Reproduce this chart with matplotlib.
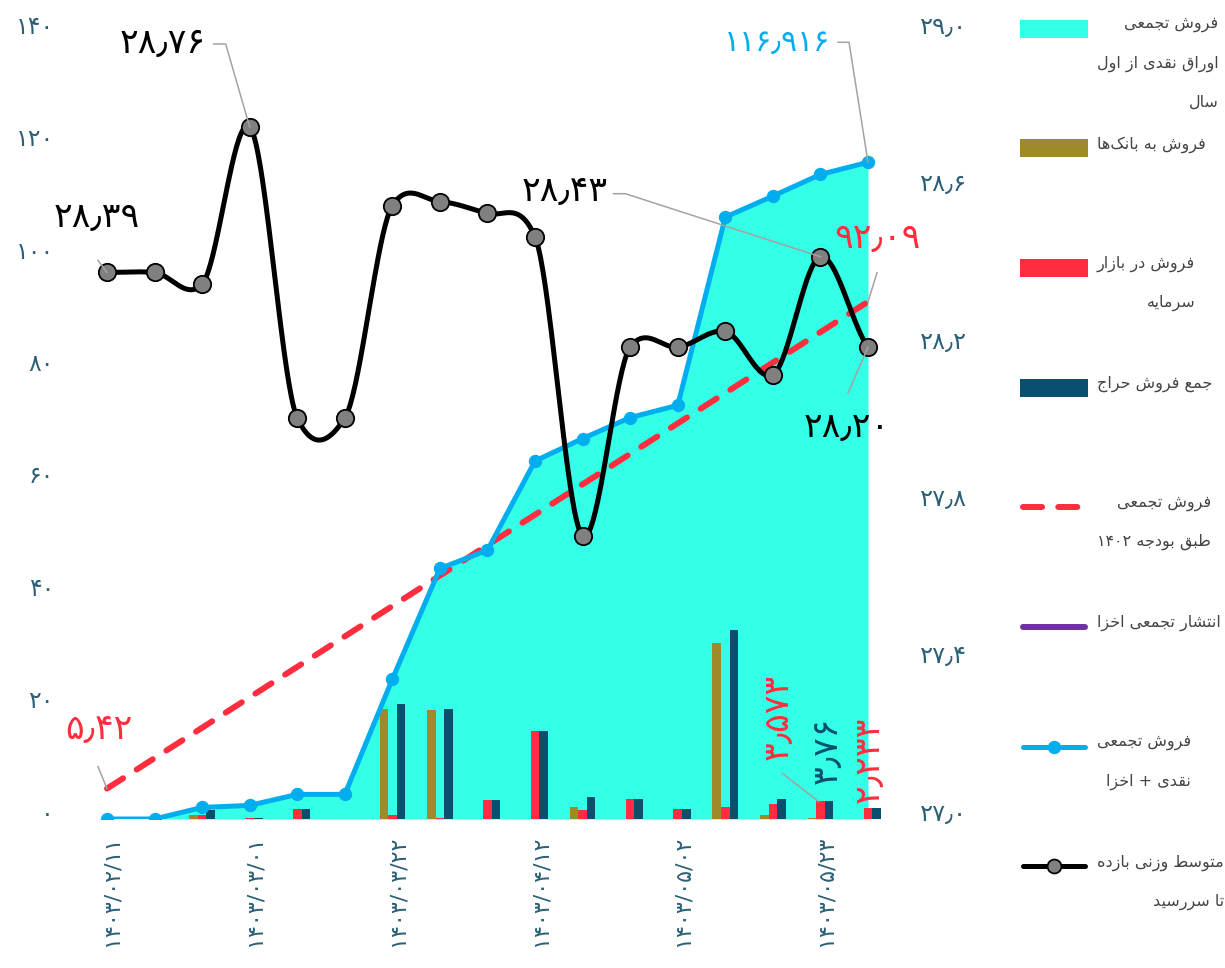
import numpy as np
import matplotlib
matplotlib.use("Agg")
import matplotlib.pyplot as plt
from matplotlib.patches import Rectangle
from matplotlib.lines import Line2D
from matplotlib.transforms import ScaledTranslation

plt.rcParams["font.family"] = ["DejaVu Sans"]

# ---------------------------------------------------------------- data
dates = ["1403/02/11", "1403/02/18", "1403/02/25", "1403/03/01", "1403/03/08",
         "1403/03/15", "1403/03/22", "1403/03/29", "1403/04/05", "1403/04/12",
         "1403/04/19", "1403/04/26", "1403/05/02", "1403/05/09", "1403/05/16",
         "1403/05/23", "1403/05/30"]

# cumulative cash sales since start of year (area)
cash_cum = [0.0, 0.0, 2.06, 2.42, 4.38, 4.38, 24.9, 44.6, 47.86, 63.74, 67.73,
            71.47, 73.65, 107.15, 110.9, 114.75, 116.916]
# cumulative cash + akhza sales (line)
cash_akhza_cum = [0.0, 0.0, 2.06, 2.42, 4.38, 4.38, 24.9, 44.6, 47.86, 63.74,
                  67.73, 71.47, 73.65, 107.15, 110.9, 114.75, 116.916]
# cumulative sales according to the 1402 budget
budget_cum = [5.42, 10.84, 16.25, 21.67, 27.09, 32.51, 37.92, 43.34, 48.76,
              54.18, 59.59, 65.01, 70.43, 75.85, 81.26, 86.68, 92.09]
# weekly auction sales
bank_sales = [0, 0, 0.9, 0, 0, 0, 22.3, 22.1, 0, 0, 2.5, 0, 0, 35.9, 0.9, 0.19, 0]
market_sales = [0, 0, 0.9, 0.2, 2.07, 0, 0.9, 0.15, 3.83, 18.0, 1.9, 4.17, 2.08,
                2.48, 3.09, 3.573, 2.233]
auction_total = [0, 0, 1.8, 0.2, 2.07, 0, 23.4, 22.3, 3.83, 18.0, 4.5, 4.17,
                 2.08, 38.4, 4.1, 3.76, 2.233]
# weighted average yield to maturity (right axis)
ytm = [28.39, 28.39, 28.36, 28.76, 28.02, 28.02, 28.56, 28.57, 28.54, 28.48,
       27.72, 28.20, 28.20, 28.24, 28.13, 28.43, 28.20]

left_ticks = [0, 20, 40, 60, 80, 100, 120, 140]
right_ticks = [27.0, 27.4, 27.8, 28.2, 28.6, 29.0]

legend_labels = [
    "فروش تجمعی\nاوراق نقدی از اول\nسال",
    "فروش به بانک‌ها",
    "فروش در بازار\nسرمایه",
    "جمع فروش حراج",
    "فروش تجمعی\nطبق بودجه ۱۴۰۲",
    "انتشار تجمعی اخزا",
    "فروش تجمعی\nنقدی + اخزا",
    "متوسط وزنی بازده\nتا سررسید",
]

# ---------------------------------------------------------------- styling
CYAN = "#34FFE7"
BLUE = "#00AEEF"
OLIVE = "#9E8A2B"
RED = "#FF2D3D"
NAVY = "#08506E"
PURPLE = "#7030A0"
TEAL = "#2B6076"
LEADER = "#A3A3A3"
LEGEND_TEXT = "#444444"

W_PX, H_PX = 1225, 968

# ---------------------------------------------------------------- Persian text helpers
FA_DIGITS = str.maketrans("0123456789.", "۰۱۲۳۴۵۶۷۸۹٫")


def fa_num(s):
    return s.translate(FA_DIGITS)


AR_FORMS = {  # isolated, final, initial, medial
    "ا": ("\uFE8D", "\uFE8E", None, None),
    "ب": ("\uFE8F", "\uFE90", "\uFE91", "\uFE92"),
    "ت": ("\uFE95", "\uFE96", "\uFE97", "\uFE98"),
    "ج": ("\uFE9D", "\uFE9E", "\uFE9F", "\uFEA0"),
    "ح": ("\uFEA1", "\uFEA2", "\uFEA3", "\uFEA4"),
    "خ": ("\uFEA5", "\uFEA6", "\uFEA7", "\uFEA8"),
    "د": ("\uFEA9", "\uFEAA", None, None),
    "ر": ("\uFEAD", "\uFEAE", None, None),
    "ز": ("\uFEAF", "\uFEB0", None, None),
    "س": ("\uFEB1", "\uFEB2", "\uFEB3", "\uFEB4"),
    "ش": ("\uFEB5", "\uFEB6", "\uFEB7", "\uFEB8"),
    "ط": ("\uFEC1", "\uFEC2", "\uFEC3", "\uFEC4"),
    "ع": ("\uFEC9", "\uFECA", "\uFECB", "\uFECC"),
    "ف": ("\uFED1", "\uFED2", "\uFED3", "\uFED4"),
    "ق": ("\uFED5", "\uFED6", "\uFED7", "\uFED8"),
    "ل": ("\uFEDD", "\uFEDE", "\uFEDF", "\uFEE0"),
    "م": ("\uFEE1", "\uFEE2", "\uFEE3", "\uFEE4"),
    "ن": ("\uFEE5", "\uFEE6", "\uFEE7", "\uFEE8"),
    "ه": ("\uFEE9", "\uFEEA", "\uFEEB", "\uFEEC"),
    "و": ("\uFEED", "\uFEEE", None, None),
    "ی": ("\uFBFC", "\uFBFD", "\uFBFE", "\uFBFF"),
    "ک": ("\uFB8E", "\uFB8F", "\uFB90", "\uFB91"),
}
NUM_CHARS = set("0123456789۰۱۲۳۴۵۶۷۸۹٫./")


def _joins_forward(c):
    return c in AR_FORMS and AR_FORMS[c][2] is not None


def shape_line(text):
    """Contextual Arabic-script shaping followed by right-to-left display order."""
    chars = list(text)
    shaped = []
    for i, c in enumerate(chars):
        if c == "\u200c":
            continue
        if c not in AR_FORMS:
            shaped.append(c)
            continue
        prev = chars[i - 1] if i > 0 else None
        nxt = chars[i + 1] if i + 1 < len(chars) else None
        jp = prev is not None and _joins_forward(prev)
        jn = nxt is not None and nxt in AR_FORMS and _joins_forward(c)
        iso, fin, ini, med = AR_FORMS[c]
        if jp and jn:
            shaped.append(med)
        elif jp:
            shaped.append(fin)
        elif jn:
            shaped.append(ini)
        else:
            shaped.append(iso)
    runs = []
    for c in shaped:
        is_num = c in NUM_CHARS
        if runs and runs[-1][0] == is_num:
            runs[-1][1].append(c)
        else:
            runs.append([is_num, [c]])
    out = []
    for is_num, cs in reversed(runs):
        out.append("".join(cs) if is_num else "".join(reversed(cs)))
    return "".join(out)


# ---------------------------------------------------------------- figure / axes
fig = plt.figure(figsize=(W_PX / 100, H_PX / 100), dpi=100)
ax = fig.add_axes([83.2 / W_PX, 149 / H_PX, 808.6 / W_PX, 786.4 / H_PX])
ax_bar = ax.twinx()
ax_ln = ax.twinx()
ax_r = ax.twinx()

x = np.arange(len(dates))

# cumulative cash area
ax.fill_between(x, 0, cash_cum, color=CYAN, lw=0)

# weekly auction bars
bw = 0.18
ax_bar.bar(x - bw, bank_sales, bw, color=OLIVE, lw=0)
ax_bar.bar(x, market_sales, bw, color=RED, lw=0)
ax_bar.bar(x + bw, auction_total, bw, color=NAVY, lw=0)

# budget line and cash + akhza line
ax_ln.plot(x, budget_cum, color=RED, lw=4.3, ls=(0, (3.2, 2.7)),
           dash_capstyle="round", zorder=2)
ax_ln.plot(x, cash_akhza_cum, color=BLUE, lw=3.6, marker="o", ms=8.6,
           solid_joinstyle="round", zorder=3)


def cardinal(xs, ys, scale=1.0, steps=40):
    p = np.column_stack([xs, ys]).astype(float)
    n = len(p)
    tang = np.zeros_like(p)
    tang[1:-1] = (p[2:] - p[:-2]) / 2
    tang[0] = p[1] - p[0]
    tang[-1] = p[-1] - p[-2]
    tang[:, 1] *= scale
    out = []
    t = np.linspace(0, 1, steps, endpoint=False)[:, None]
    h00 = 2 * t ** 3 - 3 * t ** 2 + 1
    h10 = t ** 3 - 2 * t ** 2 + t
    h01 = -2 * t ** 3 + 3 * t ** 2
    h11 = t ** 3 - t ** 2
    for i in range(n - 1):
        out.append(h00 * p[i] + h10 * tang[i] + h01 * p[i + 1] + h11 * tang[i + 1])
    out.append(p[-1][None, :])
    s = np.vstack(out)
    return s[:, 0], s[:, 1]


sx, sy = cardinal(x, ytm, scale=0.7)
ax_r.plot(sx, sy, color="black", lw=3.6, solid_capstyle="round", zorder=2)
ax_r.plot(x, ytm, ls="none", marker="o", ms=12.5, mfc="#808080", mec="black",
          mew=1.3, zorder=3)

# ---------------------------------------------------------------- scales & ticks
ax.set_xlim(-0.5, len(dates) - 0.5)
ax.set_ylim(0, 140)
ax_ln.set_ylim(0, 140)
ax_bar.set_ylim(0, 160)
ax_r.set_ylim(27, 29)

for a in (ax, ax_bar, ax_ln, ax_r):
    for s in a.spines.values():
        s.set_visible(False)
ax_bar.set_yticks([])
ax_ln.set_yticks([])

ax.set_yticks(left_ticks)
ax.set_yticklabels([fa_num(str(v)) for v in left_ticks])
ax.tick_params(axis="y", length=0, pad=21, labelsize=17, labelcolor=TEAL)

ax_r.set_yticks(right_ticks)
ax_r.set_yticklabels([fa_num(f"{v:.1f}") for v in right_ticks])
ax_r.tick_params(axis="y", length=0, pad=20, labelsize=17.5, labelcolor=TEAL)

shift = ScaledTranslation(0, 8 / 100, fig.dpi_scale_trans)
for lab in ax.get_yticklabels() + ax_r.get_yticklabels():
    lab.set_transform(lab.get_transform() + shift)

tick_idx = x[::3]
ax.set_xticks(tick_idx)
ax.set_xticklabels([fa_num(dates[i]) for i in tick_idx], rotation=90)
ax.tick_params(axis="x", length=0, pad=12, labelsize=16, labelcolor=TEAL)
xshift = ScaledTranslation(5 / 100, 0, fig.dpi_scale_trans)
for lab in ax.get_xticklabels():
    lab.set_transform(lab.get_transform() + xshift)

# ---------------------------------------------------------------- overlay in pixel units
ov = fig.add_axes([0, 0, 1, 1])
ov.set_xlim(0, W_PX)
ov.set_ylim(H_PX, 0)
ov.axis("off")


def px(a, xv, yv):
    d = a.transData.transform((xv, yv))
    return d[0], H_PX - d[1]


def leader(pts):
    xs, ys = zip(*pts)
    ov.add_line(Line2D(xs, ys, color=LEADER, lw=1.1))


BIG = 25
# yield labels
i = 3
mx, my = px(ax_r, i, ytm[i])
ov.text(mx - 44, my - 84, fa_num(f"{ytm[i]:.2f}"), ha="right", va="center",
        fontsize=BIG, color="black")
leader([(mx - 36, my - 83), (mx - 24, my - 83), (mx, my)])

i = 0
mx, my = px(ax_r, i, ytm[i])
ov.text(mx - 10, my - 55, fa_num(f"{ytm[i]:.2f}"), ha="center", va="center",
        fontsize=BIG, color="black")
leader([(mx - 9, my - 12), (mx, my)])

i = 15
mx, my = px(ax_r, i, ytm[i])
ov.text(mx - 213, my - 66, fa_num(f"{ytm[i]:.2f}"), ha="right", va="center",
        fontsize=BIG, color="black")
leader([(mx - 207, my - 63), (mx - 195, my - 63), (mx, my)])

i = 16
mx, my = px(ax_r, i, ytm[i])
ov.text(mx - 21, my + 80, fa_num(f"{ytm[i]:.2f}"), ha="center", va="center",
        fontsize=BIG, color="black")
leader([(mx - 20, my + 46), (mx, my)])

# cumulative cash + akhza label
i = 16
mx, my = px(ax_ln, i, cash_akhza_cum[i])
ov.text(mx - 38, my - 120, fa_num(f"{cash_akhza_cum[i]:g}"), ha="right",
        va="center", fontsize=21.5, color=BLUE)
leader([(mx - 30, my - 120), (mx - 19, my - 120), (mx, my)])

# budget labels
i = 16
mx, my = px(ax_ln, i, budget_cum[i])
ov.text(mx + 9, my - 64, fa_num(f"{budget_cum[i]:.2f}"), ha="center",
        va="center", fontsize=BIG, color=RED)
leader([(mx + 9, my - 29), (mx, my)])

i = 0
mx, my = px(ax_ln, i, budget_cum[i])
ov.text(mx - 8, my - 60, fa_num(f"{budget_cum[i]:.2f}"), ha="center",
        va="center", fontsize=BIG, color=RED)
leader([(mx - 9, my - 22), (mx, my)])

# rotated bar labels
i = 15
bx, by = px(ax_bar, i, market_sales[i])
ov.text(bx - 43, by - 85, fa_num(f"{market_sales[i]:g}"), ha="center",
        va="center", rotation=90, fontsize=BIG, color=RED)
leader([(bx - 38, by - 28), (bx - 2, by)])

bx, by = px(ax_bar, i + bw, auction_total[i])
ov.text(bx - 2, by - 17, fa_num(f"{auction_total[i]:g}"), ha="center",
        va="bottom", rotation=90, fontsize=BIG, color=NAVY)

i = 16
bx, by = px(ax_bar, i, market_sales[i])
ov.text(bx + 1, by - 5, fa_num(f"{market_sales[i]:g}"), ha="center",
        va="bottom", rotation=90, fontsize=BIG, color=RED)

# ---------------------------------------------------------------- legend
renderer = fig.canvas.get_renderer()
sw_x0, sw_x1 = 1020, 1088
txt_x = 1097
item_y0, item_step, line_step = 28.5, 119.7, 39
kinds = [("patch", CYAN), ("patch", OLIVE), ("patch", RED), ("patch", NAVY),
         ("dash", RED), ("line", PURPLE), ("marker", BLUE), ("ytm", "black")]

for k, ((kind, col), label) in enumerate(zip(kinds, legend_labels)):
    cy = item_y0 + k * item_step
    if kind == "patch":
        ov.add_patch(Rectangle((sw_x0, cy - 9), sw_x1 - sw_x0, 18, color=col, lw=0))
    elif kind == "dash":
        ov.add_line(Line2D([sw_x0 + 3, sw_x1 - 3], [cy, cy], color=col, lw=4.3,
                           ls=(0, (3.2, 2.7)), dash_capstyle="round"))
    elif kind == "line":
        ov.add_line(Line2D([sw_x0 + 3, sw_x1 - 3], [cy, cy], color=col, lw=4.3,
                           solid_capstyle="round"))
    elif kind == "marker":
        ov.add_line(Line2D([sw_x0 + 3, sw_x1 - 3], [cy, cy], color=col, lw=3.6,
                           solid_capstyle="round"))
        ov.add_line(Line2D([(sw_x0 + sw_x1) / 2], [cy], color=col, marker="o",
                           ms=8.6, ls="none"))
    else:
        ov.add_line(Line2D([sw_x0 + 3, sw_x1 - 3], [cy, cy], color=col, lw=3.6,
                           solid_capstyle="round"))
        ov.add_line(Line2D([(sw_x0 + sw_x1) / 2], [cy], marker="o", ms=10,
                           mfc="#808080", mec="black", mew=1.3, ls="none"))
    lines = label.split("\n")
    texts = [ov.text(txt_x, cy - 4 + j * line_step, shape_line(s), ha="left",
                     va="center", fontsize=11.5, color=LEGEND_TEXT)
             for j, s in enumerate(lines)]
    widths = [t.get_window_extent(renderer).width for t in texts]
    wmax = max(widths)
    for t, w in zip(texts, widths):
        t.set_x(txt_x + wmax - w)

fig.savefig("out.png", dpi=100)
